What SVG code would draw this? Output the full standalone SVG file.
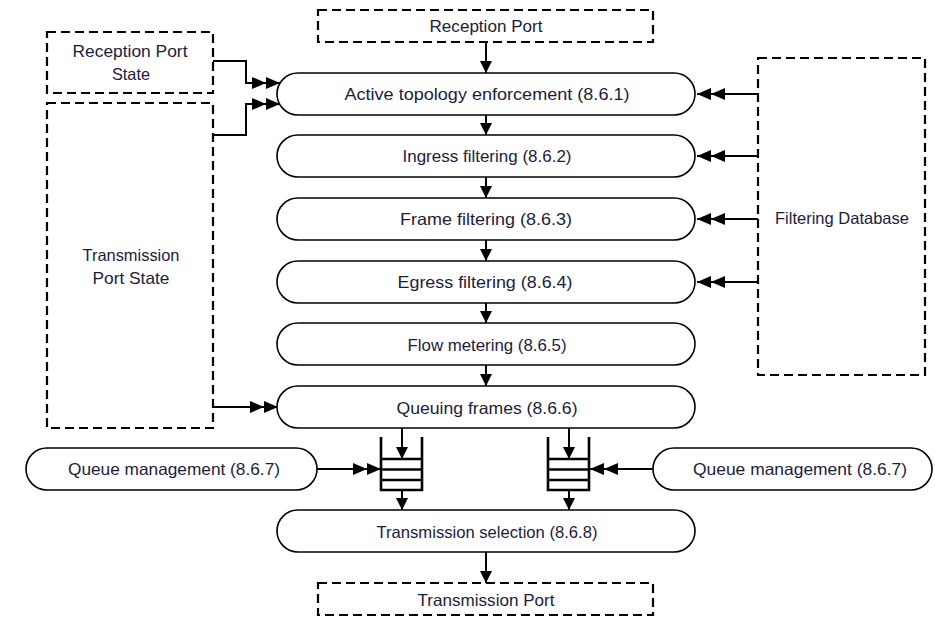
<svg xmlns="http://www.w3.org/2000/svg" width="935" height="617" viewBox="0 0 935 617">
  <style>
    .pill { fill: #ffffff; stroke: #000000; stroke-width: 1.6; }
    .dash { fill: #ffffff; stroke: #000000; stroke-width: 2.2; stroke-dasharray: 9 5; }
    .lbl { font-family: "Liberation Sans", Arial, sans-serif; font-size: 16.5px; fill: #1c1c3a; text-anchor: middle; }
    .wire { fill: none; stroke: #000000; stroke-width: 2; }
    .queue { fill: none; stroke: #000000; stroke-width: 2.6; }
  </style>
  <defs>
    <marker id="head" markerUnits="userSpaceOnUse" markerWidth="13" markerHeight="13" refX="12" refY="6" orient="auto">
      <path d="M0,0 L12,6 L0,12 z" fill="#000000"/>
    </marker>
    <marker id="head2" markerUnits="userSpaceOnUse" markerWidth="29" markerHeight="13" refX="28" refY="6" orient="auto">
      <path d="M0,0 L14,6 L0,12 z M14,0 L28,6 L14,12 z" fill="#000000"/>
    </marker>
  </defs>

  <rect width="935" height="617" fill="#ffffff"/>

  <!-- connectors -->
  <g id="connectors">
    <!-- main pipeline -->
    <path class="wire" d="M486,42 V73" marker-end="url(#head)"/>
    <path class="wire" d="M486,115 V135" marker-end="url(#head)"/>
    <path class="wire" d="M486,177 V198" marker-end="url(#head)"/>
    <path class="wire" d="M486,240 V261" marker-end="url(#head)"/>
    <path class="wire" d="M486,303 V323" marker-end="url(#head)"/>
    <path class="wire" d="M486,365 V386" marker-end="url(#head)"/>
    <path class="wire" d="M402,428 V459" marker-end="url(#head)"/>
    <path class="wire" d="M569,428 V459" marker-end="url(#head)"/>
    <path class="wire" d="M402,490 V510" marker-end="url(#head)"/>
    <path class="wire" d="M569,490 V510" marker-end="url(#head)"/>
    <path class="wire" d="M486,552 V583" marker-end="url(#head)"/>
    <!-- port state inputs -->
    <path class="wire" d="M213,61 H246 V83 H280" marker-end="url(#head2)"/>
    <path class="wire" d="M213,135 H246 V104 H280" marker-end="url(#head2)"/>
    <path class="wire" d="M213,407 H278" marker-end="url(#head2)"/>
    <!-- filtering database inputs -->
    <path class="wire" d="M758,94 H697" marker-end="url(#head2)"/>
    <path class="wire" d="M758,156 H697" marker-end="url(#head2)"/>
    <path class="wire" d="M758,219 H697" marker-end="url(#head2)"/>
    <path class="wire" d="M758,282 H697" marker-end="url(#head2)"/>
    <!-- queue management inputs -->
    <path class="wire" d="M317,469 H381" marker-end="url(#head2)"/>
    <path class="wire" d="M653,469 H590" marker-end="url(#head2)"/>
  </g>

  <!-- dashed sources and sinks -->
  <g id="reception-port">
    <rect class="dash" x="318" y="10" width="335" height="32"/>
    <text class="lbl" x="486" y="32" textLength="113" lengthAdjust="spacingAndGlyphs">Reception  Port</text>
  </g>
  <g id="reception-port-state">
    <rect class="dash" x="47" y="32" width="166" height="61"/>
    <text class="lbl" x="130" y="57" textLength="115" lengthAdjust="spacingAndGlyphs">Reception  Port</text>
    <text class="lbl" x="131" y="80" textLength="38" lengthAdjust="spacingAndGlyphs">State</text>
  </g>
  <g id="transmission-port-state">
    <rect class="dash" x="47" y="103" width="166" height="325"/>
    <text class="lbl" x="131" y="261" textLength="97" lengthAdjust="spacingAndGlyphs">Transmission</text>
    <text class="lbl" x="131" y="284" textLength="77" lengthAdjust="spacingAndGlyphs">Port  State</text>
  </g>
  <g id="filtering-database">
    <rect class="dash" x="758" y="58" width="167" height="317"/>
    <text class="lbl" x="842" y="224" textLength="134" lengthAdjust="spacingAndGlyphs">Filtering Database</text>
  </g>
  <g id="transmission-port">
    <rect class="dash" x="318" y="583" width="335" height="32"/>
    <text class="lbl" x="486" y="606" textLength="137" lengthAdjust="spacingAndGlyphs">Transmission  Port</text>
  </g>

  <!-- processing stages -->
  <g id="active-topology">
    <rect class="pill" x="277" y="73" width="418" height="42" rx="21"/>
    <text class="lbl" x="487" y="100" textLength="285" lengthAdjust="spacingAndGlyphs">Active  topology  enforcement  (8.6.1)</text>
  </g>
  <g id="ingress-filtering">
    <rect class="pill" x="277" y="135" width="418" height="42" rx="21"/>
    <text class="lbl" x="487" y="162" textLength="169" lengthAdjust="spacingAndGlyphs">Ingress filtering (8.6.2)</text>
  </g>
  <g id="frame-filtering">
    <rect class="pill" x="277" y="198" width="418" height="42" rx="21"/>
    <text class="lbl" x="486" y="225" textLength="172" lengthAdjust="spacingAndGlyphs">Frame  filtering  (8.6.3)</text>
  </g>
  <g id="egress-filtering">
    <rect class="pill" x="277" y="261" width="418" height="42" rx="21"/>
    <text class="lbl" x="485" y="288" textLength="175" lengthAdjust="spacingAndGlyphs">Egress  filtering  (8.6.4)</text>
  </g>
  <g id="flow-metering">
    <rect class="pill" x="277" y="323" width="418" height="42" rx="21"/>
    <text class="lbl" x="487" y="351" textLength="159" lengthAdjust="spacingAndGlyphs">Flow metering (8.6.5)</text>
  </g>
  <g id="queuing-frames">
    <rect class="pill" x="277" y="386" width="418" height="42" rx="21"/>
    <text class="lbl" x="487" y="414" textLength="181" lengthAdjust="spacingAndGlyphs">Queuing  frames  (8.6.6)</text>
  </g>
  <g id="transmission-selection">
    <rect class="pill" x="277" y="510" width="418" height="42" rx="21"/>
    <text class="lbl" x="487" y="538" textLength="221" lengthAdjust="spacingAndGlyphs">Transmission selection (8.6.8)</text>
  </g>
  <g id="queue-management-left">
    <rect class="pill" x="26" y="448" width="291" height="42" rx="21"/>
    <text class="lbl" x="174" y="475" textLength="212" lengthAdjust="spacingAndGlyphs">Queue  management (8.6.7)</text>
  </g>
  <g id="queue-management-right">
    <rect class="pill" x="653" y="448" width="279" height="42" rx="21"/>
    <text class="lbl" x="800" y="475" textLength="214" lengthAdjust="spacingAndGlyphs">Queue  management (8.6.7)</text>
  </g>

  <!-- output queues -->
  <g id="queue-left">
    <path class="queue" d="M381,437 V490 H422 V437 M381,459 H422 M381,469.5 H422 M381,480 H422"/>
  </g>
  <g id="queue-right">
    <path class="queue" d="M548,437 V490 H589 V437 M548,459 H589 M548,469.5 H589 M548,480 H589"/>
  </g>
</svg>
